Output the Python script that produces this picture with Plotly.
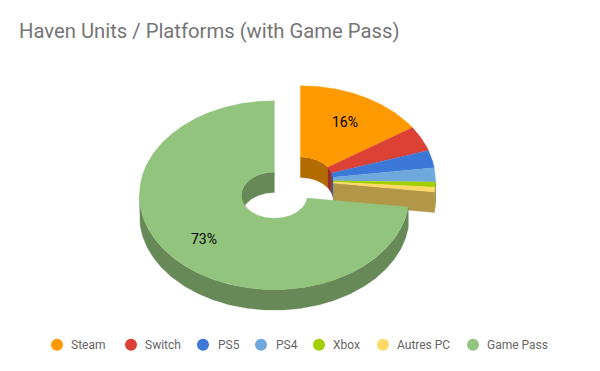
import numpy as np
import plotly.graph_objects as go

# Data
categories = ["Steam", "Switch", "PS5", "PS4", "Xbox", "Autres PC", "Game Pass"]
shares = [15.6, 4.3, 3.0, 2.4, 0.9, 0.8, 73.0]
colors = ["#ff9900", "#dc4135", "#3c78d8", "#6fa8dc", "#a2cf00", "#ffd966", "#93c47d"]
labelled = ["Steam", "Game Pass"]
title = "Haven Units / Platforms (with Game Pass)"

# Geometry of the tilted pie, in pixels of the 600x371 canvas
CX, CY = 274.4, 195.2
RX, RY = 135, 94.5
HOLE = 0.245
DEPTH = 20.5
GROUP_SHIFT = (26, -15)
LABEL_R = 0.7
LEG_MARK_X = [57, 131, 203, 261, 319, 383, 473]
LEG_TEXT_X = [71, 145, 217.5, 275.5, 333, 397, 487]
LEG_Y = 344.7


def darken(c, k=0.7):
    return "#%02x%02x%02x" % tuple(int(int(c[i:i + 2], 16) * k) for i in (1, 3, 5))


def arc(cx, cy, r, a0, a1, dz=0.0):
    t = np.radians(np.linspace(a0, a1, max(int(abs(a1 - a0) * 2), 2)))
    return cx + RX * r * np.sin(t), cy - RY * r * np.cos(t) + dz


def poly(fig, x, y, color):
    fig.add_trace(go.Scatter(
        x=np.r_[x, x[0]], y=np.r_[y, y[0]], mode="lines", fill="toself",
        fillcolor=color, line=dict(width=0.3, color=color),
        hoverinfo="skip", showlegend=False))


def band(fig, cx, cy, r, a0, a1, color):
    """Vertical wall under an arc."""
    if a1 <= a0:
        return
    xa, ya = arc(cx, cy, r, a0, a1)
    xb, yb = arc(cx, cy, r, a1, a0, DEPTH)
    poly(fig, np.r_[xa, xb], np.r_[ya, yb], color)


fig = go.Figure()
total = sum(shares)
ends = np.cumsum(shares) / total * 360
starts = np.r_[0, ends[:-1]]
n_group = len(categories) - 1  # all but the last slice are pulled out together

# Pulled-out group, then the big slice on top of it
for group, idx in ((True, range(n_group)), (False, [n_group])):
    cx = CX + (GROUP_SHIFT[0] if group else 0)
    cy = CY + (GROUP_SHIFT[1] if group else 0)
    for i in idx:
        a0, a1, dark = starts[i], ends[i], darken(colors[i])
        # inner wall (back half of the hole)
        band(fig, cx, cy, HOLE, a0, min(a1, 90), dark)
        band(fig, cx, cy, HOLE, max(a0, 270), a1, dark)
        # outer wall (front half of the rim)
        band(fig, cx, cy, 1, max(a0, 90), min(a1, 270), dark)
    if group:
        a, dark = ends[n_group - 1], darken(colors[n_group - 1])
        xi, yi = arc(cx, cy, HOLE, a, a)
        xo, yo = arc(cx, cy, 1, a, a)
        poly(fig, np.r_[xi[0], xo[0], xo[0], xi[0]],
             np.r_[yi[0], yo[0], yo[0] + DEPTH, yi[0] + DEPTH], dark)
    for i in idx:
        xo, yo = arc(cx, cy, 1, starts[i], ends[i])
        xi, yi = arc(cx, cy, HOLE, ends[i], starts[i])
        poly(fig, np.r_[xo, xi], np.r_[yo, yi], colors[i])
        if categories[i] in labelled:
            mid = np.radians((starts[i] + ends[i]) / 2)
            fig.add_annotation(
                x=cx + RX * LABEL_R * np.sin(mid), y=cy - RY * LABEL_R * np.cos(mid),
                text=f"{shares[i] / total * 100:.0f}%", showarrow=False,
                font=dict(family="Roboto", size=14, color="#000000"))

# Legend
for name, col, mx, tx in zip(categories, colors, LEG_MARK_X, LEG_TEXT_X):
    fig.add_trace(go.Scatter(x=[mx], y=[LEG_Y], mode="markers", name=name,
                             marker=dict(size=12, color=col, line=dict(width=0)),
                             hoverinfo="name", showlegend=False))
    fig.add_annotation(x=tx, y=LEG_Y, text=name, showarrow=False, xanchor="left",
                       borderpad=0, borderwidth=0,
                       font=dict(family="Roboto", size=12, color="#666666"))

fig.update_layout(
    width=600, height=371, autosize=False,
    margin=dict(l=0, r=0, t=0, b=0),
    paper_bgcolor="#ffffff", plot_bgcolor="#ffffff", showlegend=False,
    title=dict(text=title, x=19 / 600, xref="paper", xanchor="left",
               y=1 - 31 / 371, yref="paper", yanchor="middle",
               font=dict(family="Roboto", size=20.25, color="#757575")),
    xaxis=dict(range=[0, 600], visible=False, fixedrange=True),
    yaxis=dict(range=[371, 0], visible=False, fixedrange=True),
)
fig.write_html("out.html", config={"displayModeBar": False},
               post_script="document.body.style.margin='0';")
